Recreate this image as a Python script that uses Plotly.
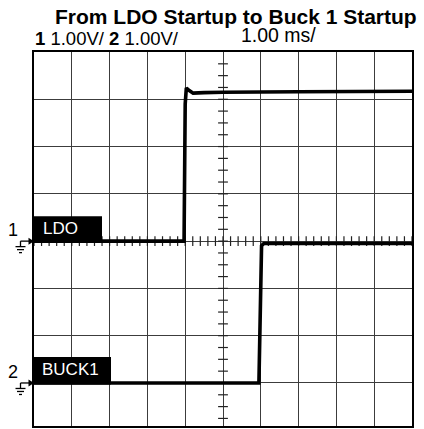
import numpy as np
import plotly.graph_objects as go

# ---------------- data (read from the scope capture) ----------------
ldo_time_ms = [-5.0, -1.03, -1.0, -0.97, -0.92, -0.79, -0.5, 0.0, 2.0, 5.0]
ldo_volts = [0.0, 0.0, 2.9, 3.24, 3.2, 3.13, 3.14, 3.15, 3.16, 3.17]
buck_time_ms = [-5.0, 0.95, 1.02, 1.08, 5.0]
buck_volts = [0.0, 0.0, 2.9, 2.95, 2.95]

ch_names = ["LDO", "BUCK1"]
ch_offsets_div = [0.0, -3.0]
volts_per_div = 1.0

title_text = "From LDO Startup to Buck 1 Startup"
scale_text = "<b>1</b> 1.00V/ <b>2</b> 1.00V/"
time_text = "1.00 ms/"

# ---------------- layout geometry ----------------
W, H = 424, 429
L, R, T, B = 34, 12, 52, 3
X_RANGE = [-5, 5]
Y_RANGE = [-3.91, 4]
PLOT_W = W - L - R
PLOT_H = H - T - B
PX_PER_DIV_Y = PLOT_H / (Y_RANGE[1] - Y_RANGE[0])
FONT = "Liberation Sans, Arial, Helvetica, sans-serif"


def px2x(px):
    return (px - L) / PLOT_W


def px2y(py):
    return (H - B - py) / PLOT_H


def div2py(d):
    return T + (Y_RANGE[1] - d) * PX_PER_DIV_Y


fig = go.Figure()

# graticule minor ticks on the centre lines
minor_y = np.arange(-3.75, Y_RANGE[1], 0.25)
minor_x = np.arange(-5, 5.001, 0.2)
fig.add_trace(go.Scatter(
    x=np.zeros_like(minor_y), y=minor_y, mode="markers", hoverinfo="skip",
    marker=dict(symbol="line-ew", size=7, line=dict(width=1.2, color="#222")),
    showlegend=False))
fig.add_trace(go.Scatter(
    x=minor_x, y=np.zeros_like(minor_x), mode="markers", hoverinfo="skip",
    marker=dict(symbol="line-ns", size=7, line=dict(width=1.2, color="#222")),
    showlegend=False))

# waveforms
for t, v, off in [(ldo_time_ms, ldo_volts, ch_offsets_div[0]),
                  (buck_time_ms, buck_volts, ch_offsets_div[1])]:
    fig.add_trace(go.Scatter(
        x=t, y=np.array(v) / volts_per_div + off, mode="lines",
        line=dict(color="black", width=3.6), showlegend=False))

shapes = []
annotations = []

# channel label boxes
box_right_px = {"LDO": 102, "BUCK1": 111}
box_h_px = {"LDO": 25, "BUCK1": 26}
text_left_px = {"LDO": 41, "BUCK1": 40}
for name, off in zip(ch_names, ch_offsets_div):
    ypx = div2py(off)
    shapes.append(dict(type="rect", xref="paper", yref="paper",
                       x0=px2x(L), x1=px2x(box_right_px[name]),
                       y0=px2y(ypx + 1.5), y1=px2y(ypx - box_h_px[name]),
                       fillcolor="black", line=dict(width=0), layer="above"))
    annotations.append(dict(text=name, xref="paper", yref="paper",
                            x=px2x(text_left_px[name]), xanchor="left",
                            y=px2y(ypx - box_h_px[name] / 2 - 0.5), yanchor="middle",
                            showarrow=False,
                            font=dict(family=FONT, size=17, color="white")))

# channel ground markers
for i, off in enumerate(ch_offsets_div):
    y = div2py(off)
    line = dict(color="black", width=1.3)
    shapes.append(dict(type="line", xref="paper", yref="paper",
                       x0=px2x(20.5), x1=px2x(31), y0=px2y(y), y1=px2y(y), line=line))
    shapes.append(dict(type="path", xref="paper", yref="paper",
                       path=f"M {px2x(28.5)},{px2y(y-3.5)} L {px2x(34)},{px2y(y)} L {px2x(28.5)},{px2y(y+3.5)} Z",
                       fillcolor="black", line=dict(width=0)))
    shapes.append(dict(type="line", xref="paper", yref="paper",
                       x0=px2x(20.5), x1=px2x(20.5), y0=px2y(y), y1=px2y(y + 5.5), line=line))
    for yy, x0, x1 in [(5.5, 15.5, 25.5), (8.5, 17, 24), (11.5, 19, 22)]:
        shapes.append(dict(type="line", xref="paper", yref="paper",
                           x0=px2x(x0), x1=px2x(x1), y0=px2y(y + yy), y1=px2y(y + yy), line=line))
    annotations.append(dict(text=str(i + 1), xref="paper", yref="paper",
                            x=px2x(13), xanchor="center", y=px2y(y - 11), yanchor="middle",
                            showarrow=False,
                            font=dict(family=FONT, size=18, color="black")))

# header texts
annotations.append(dict(text=f"<b>{title_text}</b>", xref="paper", yref="paper",
                        x=px2x(236), xanchor="center", y=px2y(16), yanchor="middle",
                        showarrow=False,
                        font=dict(family=FONT, size=21, color="black")))
annotations.append(dict(text=scale_text, xref="paper", yref="paper",
                        x=px2x(33), xanchor="left", y=px2y(38.5), yanchor="middle",
                        showarrow=False,
                        font=dict(family=FONT, size=18.5, color="black")))
annotations.append(dict(text=time_text, xref="paper", yref="paper",
                        x=px2x(239), xanchor="left", y=px2y(35.5), yanchor="middle",
                        showarrow=False,
                        font=dict(family=FONT, size=19.5, color="black")))

axis_common = dict(showgrid=True, gridcolor="#3c3c3c", gridwidth=1, dtick=1,
                   zeroline=False, showticklabels=False, ticks="",
                   showline=True, mirror=True, linecolor="black", linewidth=2,
                   fixedrange=True)

fig.update_layout(
    width=W, height=H,
    margin=dict(l=L, r=R, t=T, b=B),
    paper_bgcolor="white", plot_bgcolor="white",
    xaxis=dict(range=X_RANGE, tick0=0, **axis_common),
    yaxis=dict(range=Y_RANGE, tick0=0, **axis_common),
    shapes=shapes, annotations=annotations,
    showlegend=False,
)

fig.write_html("out.html", config={"displayModeBar": False},
               post_script="document.body.style.margin='0px';document.body.style.overflow='hidden';")
